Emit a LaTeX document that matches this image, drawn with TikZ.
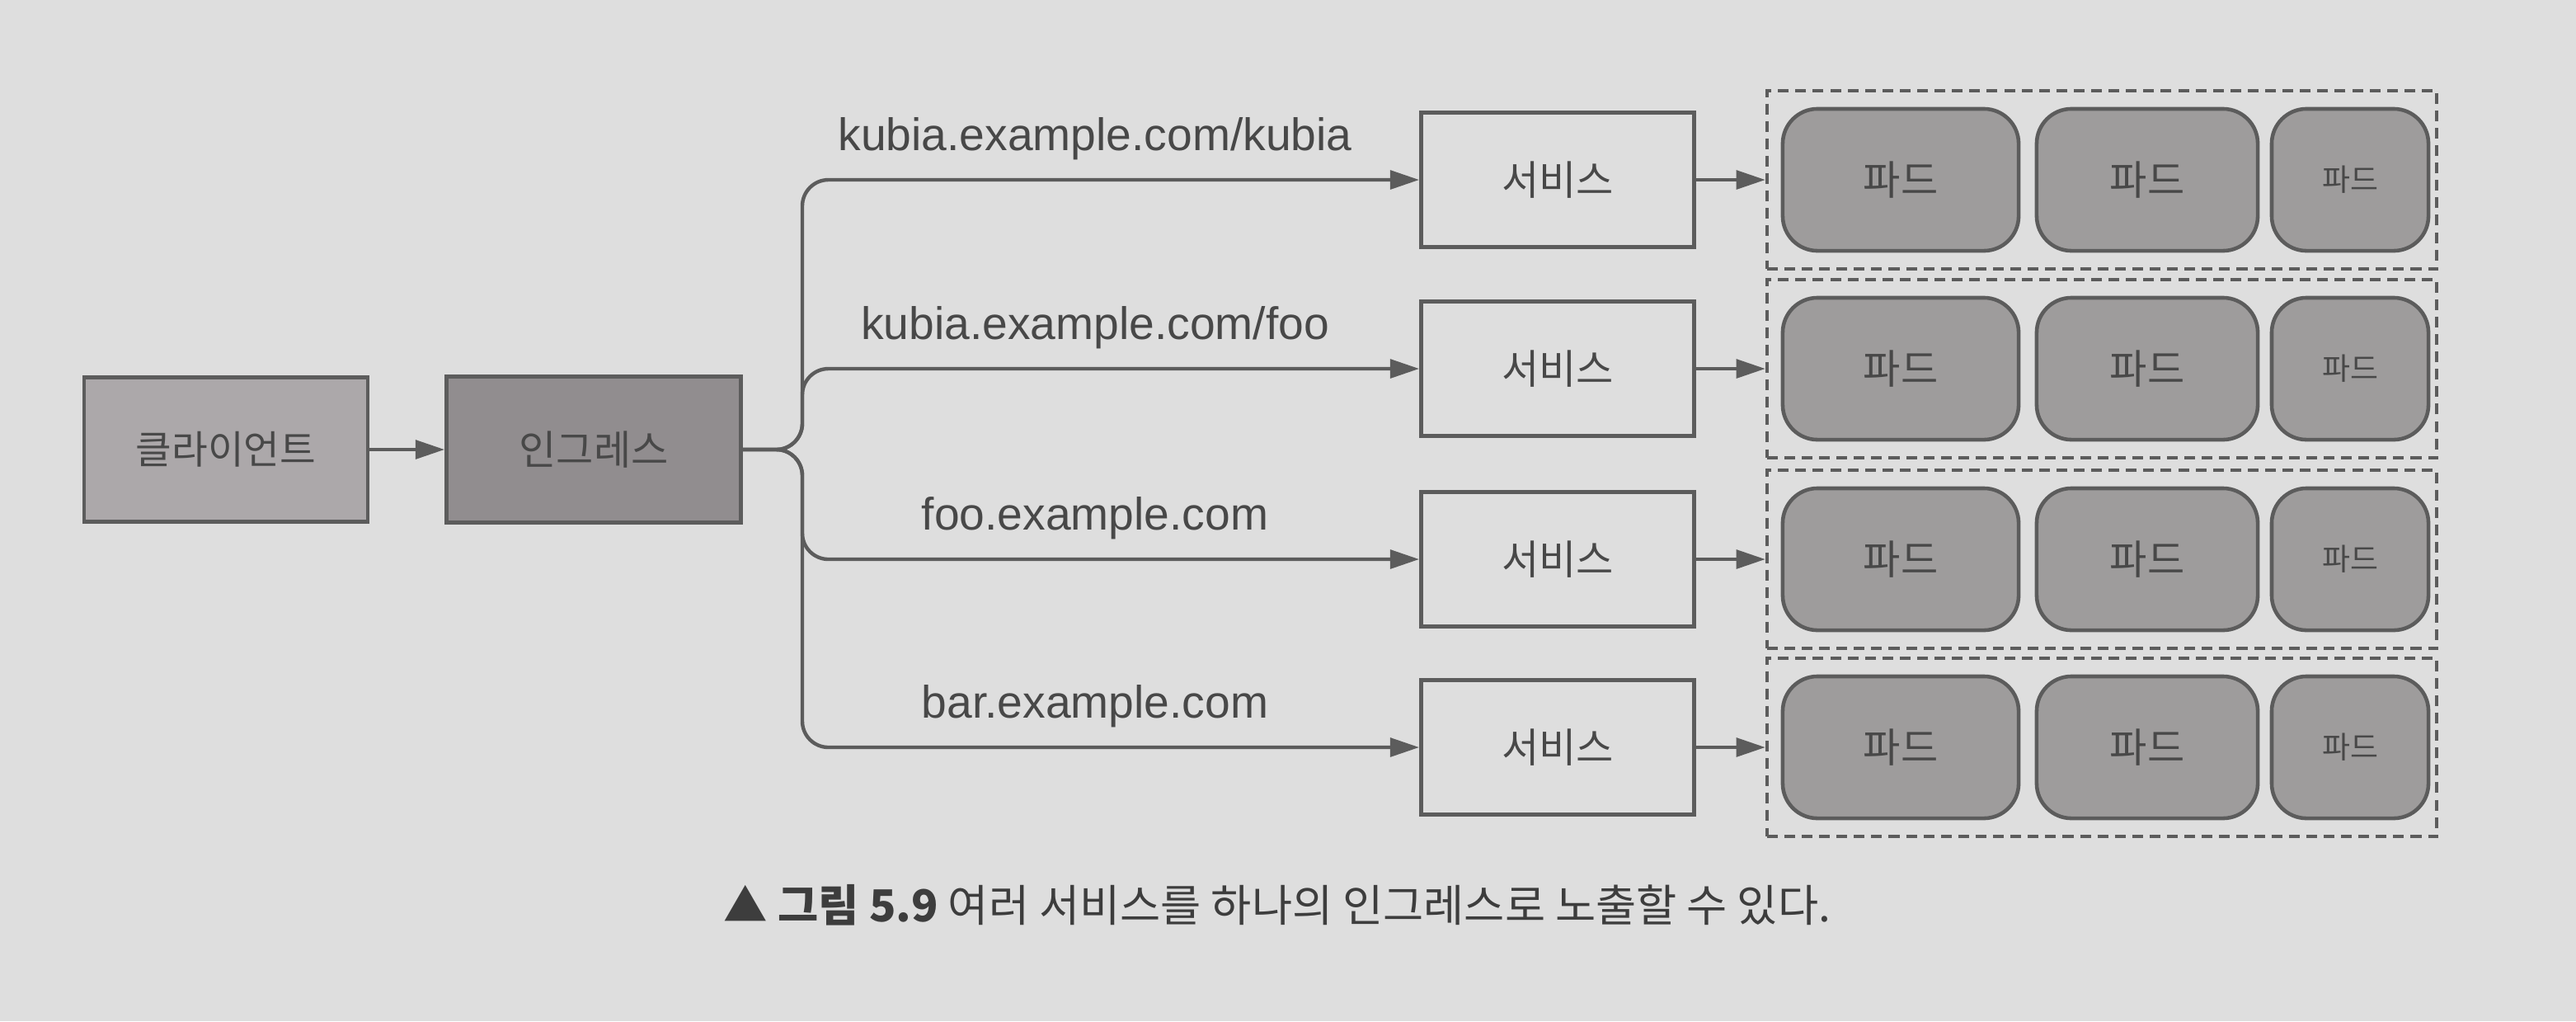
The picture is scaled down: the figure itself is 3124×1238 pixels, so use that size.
\documentclass[tikz,border=0pt]{standalone}
\usepackage{fontspec}
\setmainfont{Liberation Sans}
\newfontfamily\kr{Noto Sans CJK KR}
\usetikzlibrary{arrows.meta}
\definecolor{bg}{RGB}{222,222,222}
\definecolor{ln}{RGB}{92,92,92}
\definecolor{txt}{RGB}{72,72,72}
\definecolor{clientfill}{RGB}{172,168,170}
\definecolor{ingfill}{RGB}{145,141,143}
\definecolor{podfill}{RGB}{158,156,156}
\begin{document}
\begin{tikzpicture}[x=0.01cm,y=-0.01cm,
  base/.style={draw=ln, line width=1.3pt, inner sep=0pt, text=txt},
  clientbox/.style={base, fill=clientfill, minimum width=3.44cm, minimum height=1.75cm, font=\kr\fontsize{13.5}{16}\selectfont},
  ingbox/.style={base, fill=ingfill, minimum width=3.57cm, minimum height=1.77cm, font=\kr\fontsize{14}{16}\selectfont},
  svcbox/.style={base, minimum width=3.31cm, minimum height=1.63cm, font=\kr\fontsize{14}{16}\selectfont},
  grp/.style={draw=ln, line width=1.1pt, dash pattern=on 3.7pt off 2.3pt, minimum width=8.12cm, minimum height=2.16cm, inner sep=0pt},
  pod/.style={base, fill=podfill, rounded corners=12pt, minimum height=1.72cm, font=\kr\fontsize{14}{16}\selectfont},
  lbl/.style={font=\fontsize{15.7}{18}\selectfont, text=txt, inner sep=0pt, anchor=base},
  arr/.style={draw=ln, line width=1.25pt, -{Triangle[length=10pt,width=6.4pt]}},
]
\fill[bg] (0,0) rectangle (3124,1238);
\useasboundingbox (0,0) rectangle (3124,1238);

\node[clientbox] (client) at (274,545) {클라이언트};
\node[ingbox] (ing) at (720,545) {인그레스};
\draw[arr] (client) -- (ing);
\coordinate (tr) at (973,545);

\foreach \i/\y/\t in {1/218/kubia.example.com\slash kubia, 2/447/kubia.example.com\slash foo, 3/678/foo.example.com, 4/906/bar.example.com}{
  \node[svcbox] (s\i) at (1889,\y) {서비스};
  \node[grp] (g\i) at (2549,\y) {};
  \node[pod, minimum width=2.86cm] (p\i a) at (2305,\y) {파드};
  \node[pod, minimum width=2.68cm] (p\i b) at (2604,\y) {파드};
  \node[pod, minimum width=1.90cm, font=\kr\fontsize{10.5}{12}\selectfont] (p\i c) at (2850,\y) {파드};
  \node[lbl] (l\i) at (1328,\y-36) {\t};
  \draw[arr, rounded corners=9pt] (ing.east) -- (tr) -- (tr |- s\i) -- (s\i.west);
  \draw[arr] (s\i) -- (g\i);
}

\node[anchor=west, inner sep=0pt, text=txt!85!black, font=\kr\fontsize{15.2}{18}\selectfont] (cap) at (877,1097)
  {{\bfseries ▲ 그림 5.9} 여러 서비스를 하나의 인그레스로 노출할 수 있다.};
\end{tikzpicture}
\end{document}
